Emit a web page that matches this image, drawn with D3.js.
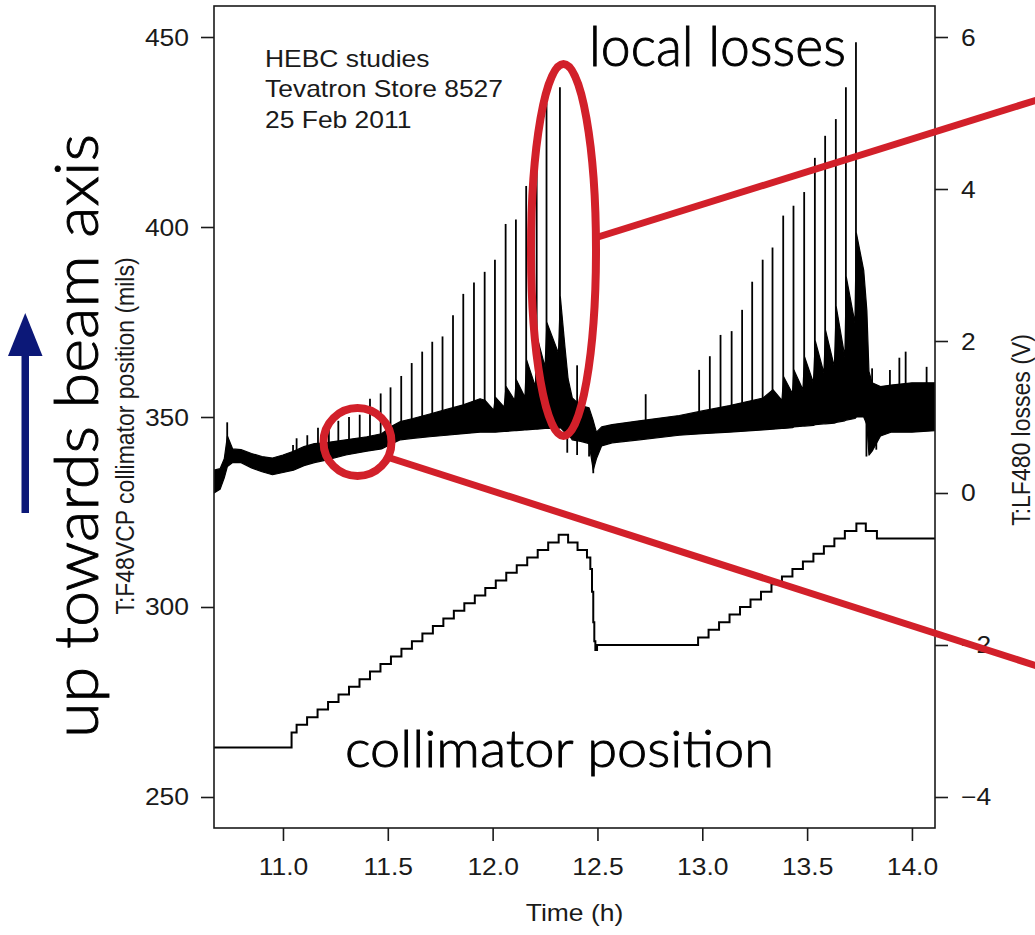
<!DOCTYPE html>
<html><head><meta charset="utf-8">
<script src="https://cdn.jsdelivr.net/npm/d3@7"></script>
<style>
html,body{margin:0;padding:0;background:#fff;}
svg{display:block;}
</style></head>
<body>
<svg id="chart" width="1035" height="935"></svg>
<script>
// ---------- data ----------
const xTicks = [11.0, 11.5, 12.0, 12.5, 13.0, 13.5, 14.0];
const xTickLabels = ["11.0", "11.5", "12.0", "12.5", "13.0", "13.5", "14.0"];
const leftTicks = [250, 300, 350, 400, 450];
const leftTickLabels = ["250", "300", "350", "400", "450"];
const rightTicks = [-4, -2, 0, 2, 4, 6];
const rightTickLabels = ["\u22124", "\u22122", "0", "2", "4", "6"];

// collimator position (mils), step-after series
const collTime = [10.671, 11.041, 11.065, 11.115, 11.165, 11.215, 11.265, 11.315, 11.365, 11.415,
  11.465, 11.515, 11.565, 11.615, 11.665, 11.715, 11.765, 11.815, 11.865, 11.915,
  11.965, 12.015, 12.065, 12.115, 12.165, 12.215, 12.265, 12.315, 12.360, 12.405,
  12.450, 12.466, 12.474, 12.480, 12.485, 12.490, 12.498, 12.980, 13.030, 13.080,
  13.130, 13.180, 13.230, 13.280, 13.330, 13.380, 13.430, 13.480, 13.530, 13.580,
  13.630, 13.680, 13.735, 13.780, 13.833, 14.110];
const collPos = [263, 267, 269, 271, 273, 275, 277, 279, 281, 283,
  285, 287, 289, 291, 293, 295, 297, 299, 301, 303,
  305, 307, 309, 311, 313, 315, 317, 319, 317, 315,
  313, 310, 304, 296, 291, 288.7, 290, 292, 294, 296,
  298, 300, 302, 304, 306, 308, 310, 312, 314, 316,
  318, 320, 322, 320, 318, 318];

// losses (V): lower / upper envelope of the noisy signal
const lossTime = [10.671, 10.700, 10.720, 10.735, 10.760, 10.800, 10.850, 10.900, 10.950, 11.000,
  11.050, 11.100, 11.150, 11.200, 11.300, 11.400, 11.470, 11.520, 11.560, 11.620,
  11.700, 11.780, 11.860, 11.940, 11.964, 12.005, 12.013, 12.055, 12.064, 12.105,
  12.113, 12.154, 12.162, 12.204, 12.212, 12.250, 12.259, 12.314, 12.323, 12.345,
  12.360, 12.380, 12.420, 12.460, 12.480, 12.495, 12.520, 12.570, 12.700, 12.890,
  13.000, 13.130, 13.290, 13.337, 13.380, 13.388, 13.430, 13.437, 13.480, 13.488,
  13.530, 13.539, 13.580, 13.588, 13.630, 13.639, 13.680, 13.687, 13.728, 13.735,
  13.770, 13.785, 13.795, 13.810, 13.850, 13.900, 14.000, 14.110];
const lossLow = [0.00, 0.05, 0.20, 0.35, 0.40, 0.40, 0.33, 0.28, 0.24, 0.27,
  0.30, 0.36, 0.40, 0.43, 0.50, 0.55, 0.58, 0.65, 0.70, 0.72,
  0.74, 0.76, 0.78, 0.80, 0.80, 0.80, 0.80, 0.81, 0.81, 0.82,
  0.82, 0.83, 0.83, 0.84, 0.84, 0.85, 0.85, 0.85, 0.86, 0.80,
  0.78, 0.70, 0.68, 0.65, 0.30, 0.45, 0.62, 0.66, 0.70, 0.76,
  0.78, 0.80, 0.83, 0.84, 0.85, 0.85, 0.86, 0.87, 0.88, 0.88,
  0.89, 0.90, 0.91, 0.91, 0.92, 0.93, 0.95, 0.96, 0.98, 1.00,
  1.00, 0.90, 0.50, 0.55, 0.75, 0.80, 0.80, 0.82];
const lossHigh = [0.30, 0.32, 0.45, 0.75, 0.58, 0.57, 0.52, 0.48, 0.46, 0.50,
  0.55, 0.61, 0.65, 0.66, 0.70, 0.74, 0.78, 0.88, 0.94, 0.98,
  1.04, 1.10, 1.16, 1.24, 1.22, 1.09, 1.26, 1.13, 1.40, 1.22,
  1.49, 1.26, 1.75, 1.40, 2.05, 1.66, 2.24, 1.84, 2.58, 1.92,
  1.50, 1.25, 1.15, 1.12, 0.95, 0.80, 0.87, 0.90, 0.95, 1.02,
  1.08, 1.15, 1.25, 1.36, 1.22, 1.53, 1.31, 1.62, 1.36, 1.79,
  1.45, 2.00, 1.58, 2.14, 1.66, 2.45, 1.79, 2.84, 2.24, 3.42,
  2.93, 2.40, 1.60, 1.45, 1.40, 1.42, 1.45, 1.45];

// loss spikes (V)
const spikeTime = [10.734, 11.048, 11.065, 11.116, 11.167, 11.219, 11.264, 11.315, 11.366, 11.415,
  11.466, 11.513, 11.564, 11.614, 11.664, 11.712, 11.761, 11.811, 11.860, 11.911,
  11.962, 12.011, 12.062, 12.111, 12.160, 12.210, 12.257, 12.321, 12.403,
  12.730, 12.985, 13.036, 13.087, 13.140, 13.190, 13.238, 13.288, 13.335, 13.386,
  13.435, 13.486, 13.537, 13.586, 13.637, 13.685, 13.733,
  13.810, 13.895, 13.940, 13.970, 14.070];
const spikePeak = [0.93, 0.63, 0.72, 0.76, 0.86, 0.89, 0.95, 1.00, 1.03, 1.24,
  1.31, 1.39, 1.54, 1.71, 1.86, 1.99, 2.06, 2.34, 2.62, 2.77,
  2.91, 3.07, 3.54, 3.60, 4.04, 4.60, 5.13, 5.34, 1.68,
  1.30, 1.62, 1.80, 2.08, 2.13, 2.41, 2.78, 3.07, 3.23, 3.65,
  3.78, 3.96, 4.41, 4.70, 4.92, 5.34, 5.93,
  1.64, 1.62, 1.78, 1.86, 1.66];
const dipTime = [12.356, 12.403, 12.460, 12.480, 13.783, 13.830];
const dipLow = [0.53, 0.50, 0.48, 0.26, 0.48, 0.57];

const infoLines = ["HEBC studies", "Tevatron Store 8527", "25 Feb 2011"];

// ---------- drawing ----------
const svg = d3.select("#chart");
const L = 214, R = 935, T = 6, B = 828;
const SX = 1.15; // horizontal stretch of the reference's text
const FONT = "'Liberation Sans', Arial, Helvetica, sans-serif";
const INK = "#1a1a1a";

const x = d3.scaleLinear().domain([10.671, 14.11]).range([L, R]);
const yL = d3.scaleLinear().domain([241.84, 458.16]).range([B, T]);
const yR = d3.scaleLinear().domain([-4.408, 6.408]).range([B, T]);

svg.append("defs").append("clipPath").attr("id", "clip")
  .append("rect").attr("x", L).attr("y", T).attr("width", R - L).attr("height", B - T);

const plot = svg.append("g").attr("clip-path", "url(#clip)");

// loss band
const lossData = lossTime.map((t, i) => ({t, lo: lossLow[i], hi: lossHigh[i]}));
plot.append("path").datum(lossData)
  .attr("d", d3.area().x(d => x(d.t)).y0(d => yR(d.lo)).y1(d => yR(d.hi)))
  .attr("fill", "#000").attr("stroke", "#000").attr("stroke-width", 1.2).attr("stroke-linejoin", "round");

const lowAt = d3.scaleLinear().domain(lossTime).range(lossLow);
const highAt = d3.scaleLinear().domain(lossTime).range(lossHigh);

plot.append("g").selectAll("line").data(spikeTime.map((t, i) => ({t, p: spikePeak[i]})))
  .join("line")
  .attr("x1", d => x(d.t)).attr("x2", d => x(d.t))
  .attr("y1", d => yR((lowAt(d.t) + highAt(d.t)) / 2)).attr("y2", d => yR(d.p))
  .attr("stroke", "#000").attr("stroke-width", 1.8);

plot.append("g").selectAll("line").data(dipTime.map((t, i) => ({t, p: dipLow[i]})))
  .join("line")
  .attr("x1", d => x(d.t)).attr("x2", d => x(d.t))
  .attr("y1", d => yR((lowAt(d.t) + highAt(d.t)) / 2)).attr("y2", d => yR(d.p))
  .attr("stroke", "#000").attr("stroke-width", 1.8);

// collimator position
const collData = collTime.map((t, i) => ({t, v: collPos[i]}));
plot.append("path").datum(collData)
  .attr("d", d3.line().x(d => x(d.t)).y(d => yL(d.v)).curve(d3.curveStepAfter))
  .attr("fill", "none").attr("stroke", "#000").attr("stroke-width", 2);

// box
svg.append("rect").attr("x", L).attr("y", T).attr("width", R - L).attr("height", B - T)
  .attr("fill", "none").attr("stroke", INK).attr("stroke-width", 1.6);

function styleAxis(g) {
  g.select(".domain").remove();
  g.selectAll(".tick line").attr("stroke", INK).attr("stroke-width", 1.6);
  g.selectAll("text").attr("font-family", FONT).attr("font-size", 23).attr("fill", INK);
}

// left axis
const gl = svg.append("g").attr("transform", `translate(${L},0)`)
  .call(d3.axisLeft(yL).tickValues(leftTicks).tickFormat((d, i) => leftTickLabels[i]).tickSize(13).tickPadding(12));
styleAxis(gl);
gl.selectAll(".tick text").attr("transform", `translate(-25,8) scale(${SX},1)`).attr("x", 0).attr("dy", 0);

// right axis
const gr = svg.append("g").attr("transform", `translate(${R},0)`)
  .call(d3.axisRight(yR).tickValues(rightTicks).tickFormat((d, i) => rightTickLabels[i]).tickSize(13).tickPadding(13));
styleAxis(gr);
gr.selectAll(".tick text").attr("transform", `translate(26,8) scale(${SX},1)`).attr("x", 0).attr("dy", 0);

// bottom axis
const gb = svg.append("g").attr("transform", `translate(0,${B})`)
  .call(d3.axisBottom(x).tickValues(xTicks).tickFormat((d, i) => xTickLabels[i]).tickSize(13));
styleAxis(gb);
gb.selectAll(".tick text").attr("transform", `translate(0,47) scale(${SX},1)`).attr("y", 0).attr("dy", 0);

// axis titles
function stretchedText(tx, ty, str, anchor, rot, size) {
  const g = svg.append("g").attr("transform", `translate(${tx},${ty}) scale(${SX},1)` + (rot ? ` rotate(${rot})` : ""));
  return g.append("text").attr("text-anchor", anchor).attr("font-family", FONT)
    .attr("font-size", size || 23).attr("fill", INK).text(str);
}
stretchedText(574.5, 921, "Time (h)", "middle", 0);
stretchedText(134, 436, "T:F48VCP collimator position (mils)", "middle", -90);
stretchedText(1030, 430, "T:LF480 losses (V)", "middle", -90);

infoLines.forEach((s, i) => stretchedText(265, 66.5 + i * 30.8, s, "start", 0));

// ---------- annotations ----------
const RED = "#d2202a";
const ANN = "Lato, 'Open Sans', sans-serif";
svg.append("line").attr("x1", 598).attr("y1", 237).attr("x2", 1040).attr("y2", 99)
  .attr("stroke", RED).attr("stroke-width", 7);
svg.append("line").attr("x1", 390).attr("y1", 458).attr("x2", 1040).attr("y2", 667)
  .attr("stroke", RED).attr("stroke-width", 7);
svg.append("ellipse").attr("cx", 563.5).attr("cy", 250).attr("rx", 32.5).attr("ry", 186)
  .attr("fill", "none").attr("stroke", RED).attr("stroke-width", 8);
svg.append("circle").attr("cx", 357.5).attr("cy", 442).attr("r", 34)
  .attr("fill", "none").attr("stroke", RED).attr("stroke-width", 8);

function annText(sel) {
  return sel.attr("font-family", ANN).attr("font-weight", 300)
    .attr("lengthAdjust", "spacingAndGlyphs").attr("fill", "#000")
    .attr("stroke", "#000").attr("stroke-width", 0.9);
}
annText(svg.append("text").attr("x", 589).attr("y", 66).attr("font-size", 56)
  .attr("textLength", 257)).text("local losses");
annText(svg.append("text").attr("x", 345).attr("y", 767).attr("font-size", 52)
  .attr("textLength", 429)).text("collimator position");
annText(svg.append("text").attr("transform", "translate(98,738) rotate(-90)").attr("x", 0).attr("y", 0)
  .attr("font-size", 62).attr("textLength", 604)).text("up towards beam axis");

// arrow
const NAVY = "#0c1878";
svg.append("rect").attr("x", 21.5).attr("y", 350).attr("width", 7.5).attr("height", 163).attr("fill", NAVY);
svg.append("path").attr("d", "M8,356 L42.5,356 L25.25,313 Z").attr("fill", NAVY);
</script>
</body></html>
